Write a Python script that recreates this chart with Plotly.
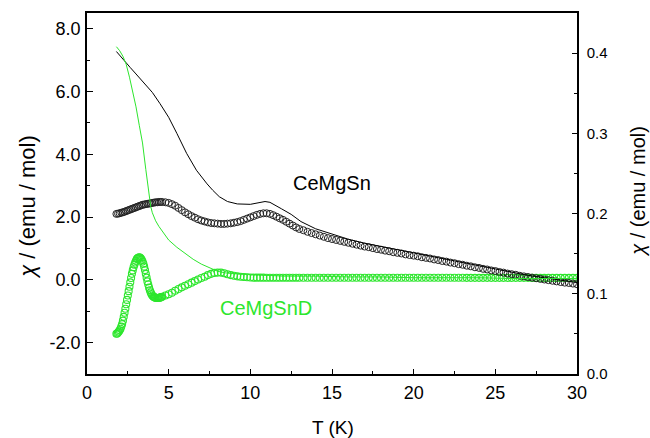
import plotly.graph_objects as go

# ---- data ----
# black circles (left axis), CeMgSn
T_blk_A = [1.8,1.9,2.0,2.1,2.2,2.3,2.4,2.5,2.6,2.7,2.8,2.9,3.0,3.1,3.2,3.3,3.4,3.5,3.6,3.7,3.8,3.9,4.0,4.1,4.2,4.3,4.4,4.5,4.6]
chi_blk_A = [2.10,2.11,2.12,2.14,2.15,2.17,2.19,2.21,2.23,2.25,2.27,2.29,2.31,2.33,2.35,2.37,2.39,2.40,2.41,2.42,2.43,2.44,2.45,2.46,2.47,2.47,2.48,2.48,2.48]

T_B = [4.8,5.0,5.2,5.4,5.6,5.8,6.0,6.2,6.4,6.6,6.8,7.0,7.2,7.4,7.6,7.8,8.0,8.2,8.4,8.6,8.8,9.0,9.2,9.4,9.6,9.8,10.0,10.2,10.4,10.6,10.8,11.0,11.2,11.4,11.6,11.8,12.0,12.2,12.4,12.6,12.8,13.0]
chi_blk_B = [2.47,2.45,2.41,2.36,2.29,2.22,2.15,2.09,2.03,1.98,1.93,1.89,1.86,1.83,1.81,1.80,1.79,1.78,1.78,1.79,1.80,1.82,1.84,1.87,1.91,1.95,1.99,2.03,2.07,2.10,2.12,2.12,2.10,2.06,2.01,1.96,1.91,1.85,1.79,1.73,1.67,1.62]

T_C = [13.25,13.5,13.75,14.0,14.25,14.5,14.75,15.0,15.25,15.5,15.75,16.0,16.25,16.5,16.75,17.0,
       17.25,17.5,17.75,18.0,18.25,18.5,18.75,19.0,19.25,19.5,19.75,20.0,20.25,20.5,20.75,21.0,
       21.25,21.5,21.75,22.0,22.25,22.5,22.75,23.0,23.25,23.5,23.75,24.0,24.25,24.5,24.75,25.0,
       25.25,25.5,25.75,26.0,26.25,26.5,26.75,27.0,27.25,27.5,27.75,28.0,28.25,28.5,28.75,29.0,
       29.25,29.5,29.75,30.0]
chi_blk_C = [1.58,1.53,1.49,1.45,1.41,1.37,1.33,1.30,1.27,1.24,1.21,1.18,1.15,1.12,1.09,1.06,
             1.04,1.01,0.98,0.96,0.93,0.91,0.88,0.86,0.84,0.81,0.79,0.77,0.75,0.72,0.70,0.68,
             0.65,0.63,0.60,0.58,0.55,0.53,0.50,0.48,0.45,0.43,0.40,0.38,0.35,0.33,0.30,0.28,
             0.25,0.23,0.20,0.18,0.16,0.13,0.11,0.09,0.07,0.05,0.03,0.01,-0.01,-0.03,-0.05,-0.07,
             -0.09,-0.10,-0.12,-0.14]

# green circles (left axis), CeMgSnD
T_grn_A = [1.80,1.85,1.90,1.95,2.00,2.05,2.10,2.15,2.20,2.25,2.30,2.35,2.40,2.45,2.50,2.55,2.60,2.65,2.70,2.75,
           2.80,2.85,2.90,2.95,3.00,3.05,3.10,3.15,3.20,3.25,3.30,3.35,3.40,3.45,3.50,3.55,3.60,3.65,3.70,3.75,
           3.80,3.85,3.90,3.95,4.00,4.05,4.10,4.15,4.20,4.25,4.30,4.35,4.40,4.45,4.50,4.55,4.60]
chi_grn_A = [-1.72,-1.71,-1.68,-1.65,-1.61,-1.56,-1.49,-1.41,-1.30,-1.18,-1.05,-0.92,-0.78,-0.64,-0.50,-0.36,-0.22,-0.08,0.06,0.19,
             0.30,0.40,0.48,0.55,0.61,0.66,0.69,0.71,0.72,0.71,0.68,0.64,0.58,0.51,0.42,0.31,0.19,0.07,-0.05,-0.15,
             -0.25,-0.33,-0.40,-0.46,-0.50,-0.53,-0.55,-0.56,-0.57,-0.58,-0.58,-0.58,-0.57,-0.57,-0.56,-0.55,-0.54]
chi_grn_B = [-0.50,-0.46,-0.41,-0.35,-0.29,-0.24,-0.19,-0.14,-0.09,-0.04,0.01,0.06,0.10,0.15,0.19,0.22,0.23,0.23,0.21,0.18,
             0.15,0.13,0.11,0.10,0.09,0.08,0.075,0.07,0.07,0.07,0.07,0.065,0.065,0.065,0.065,0.065,0.065,0.065,0.065,0.065,
             0.065,0.065]
chi_grn_C = [0.065,0.065,0.065,0.065,0.065,0.065,0.065,0.065,0.065,0.065,0.065,0.065,0.065,0.065,0.065,0.065,
             0.065,0.065,0.065,0.065,0.065,0.065,0.065,0.065,0.065,0.065,0.065,0.065,0.064,0.064,0.064,0.064,
             0.064,0.064,0.064,0.064,0.064,0.064,0.064,0.064,0.063,0.063,0.063,0.063,0.063,0.063,0.063,0.063,
             0.063,0.063,0.063,0.063,0.063,0.063,0.063,0.063,0.062,0.062,0.062,0.062,0.062,0.062,0.062,0.062,
             0.062,0.062,0.062,0.062]

# thin lines (right axis)
T_line_blk = [1.8,2.0,2.2,2.4,2.65,3.0,3.3,3.67,4.0,4.47,5.0,5.5,6.1,6.7,7.1,7.35,7.7,8.1,8.6,9.2,10.0,10.5,10.9,11.2,11.5,11.9,
              12.5,13.1,14,15,16,17,18,19,20,21,22,23,24,25,26,27,28,29,30]
chi_line_blk = [0.402,0.397,0.392,0.387,0.382,0.374,0.367,0.359,0.351,0.337,0.320,0.300,0.275,0.254,0.243,0.237,0.229,0.221,0.215,0.212,0.2115,0.213,0.215,0.214,0.211,0.206,
                0.199,0.190,0.181,0.174,0.168,0.163,0.159,0.155,0.151,0.147,0.143,0.139,0.135,0.131,0.127,0.123,0.120,0.117,0.114]
T_line_grn = [1.8,2.0,2.2,2.4,2.6,2.8,3.0,3.2,3.4,3.6,3.7,3.8,3.9,4.0,4.2,4.4,4.7,5.0,5.5,6.0,6.5,7.0,7.5,8.0,8.5,9.0,
              10,11,12,14,16,18,20,22,24,26,28,30]
chi_line_grn = [0.408,0.403,0.396,0.386,0.370,0.352,0.333,0.310,0.288,0.255,0.237,0.222,0.209,0.201,0.191,0.184,0.175,0.167,0.158,0.150,0.143,0.137,0.132,0.128,0.126,0.125,
                0.124,0.123,0.122,0.122,0.121,0.121,0.120,0.120,0.120,0.119,0.119,0.119]

# tick labels
left_ticks = [-2, 0, 2, 4, 6, 8]
left_labels = ["-2.0", "0.0", "2.0", "4.0", "6.0", "8.0"]
right_ticks = [0.0, 0.1, 0.2, 0.3, 0.4]
right_labels = ["0.0", "0.1", "0.2", "0.3", "0.4"]

BLACK = "rgb(35,35,35)"
GREEN = "rgb(45,230,45)"
FONT = "Arial, Liberation Sans, sans-serif"

fig = go.Figure()
fig.add_trace(go.Scatter(x=T_grn_A + T_B + T_C, y=chi_grn_A + chi_grn_B + chi_grn_C, mode="markers",
                         marker=dict(symbol="circle-open", size=7, color=GREEN, line=dict(width=1.1)),
                         yaxis="y", showlegend=False))
fig.add_trace(go.Scatter(x=T_blk_A + T_B + T_C, y=chi_blk_A + chi_blk_B + chi_blk_C, mode="markers",
                         marker=dict(symbol="circle-open", size=7, color=BLACK, line=dict(width=1.0)),
                         yaxis="y", showlegend=False))
fig.add_trace(go.Scatter(x=T_line_blk, y=chi_line_blk, mode="lines", line=dict(color="black", width=1),
                         yaxis="y2", showlegend=False))
fig.add_trace(go.Scatter(x=T_line_grn, y=chi_line_grn, mode="lines", line=dict(color=GREEN, width=1),
                         yaxis="y2", showlegend=False))

axis_common = dict(showline=True, linecolor="black", linewidth=1.5, ticks="inside", tickcolor="black",
                   showgrid=False, zeroline=False)

fig.update_layout(
    width=650, height=438,
    margin=dict(l=87, r=73, t=13, b=64),
    paper_bgcolor="white", plot_bgcolor="white",
    xaxis=dict(range=[0, 30], dtick=5, tick0=0, ticklen=5, tickwidth=1.2, mirror=True,
               minor=dict(dtick=2.5, ticklen=3, ticks="inside", tickcolor="black"),
               ticklabelstandoff=2, tickfont=dict(family=FONT, size=18, color="black"), **axis_common),
    yaxis=dict(range=[-3, 8.5], tickvals=left_ticks, ticktext=left_labels, ticklen=6, tickwidth=1.2,
               minor=dict(dtick=1, ticklen=3.5, ticks="inside", tickcolor="black"),
               ticklabelstandoff=1, tickfont=dict(family=FONT, size=18, color="black"), **axis_common),
    yaxis2=dict(range=[0, 0.45], tickvals=right_ticks, ticktext=right_labels, ticklen=5, tickwidth=1.2,
                overlaying="y", side="right",
                minor=dict(dtick=0.05, ticklen=3, ticks="inside", tickcolor="black"),
                ticklabelstandoff=5, tickfont=dict(family=FONT, size=15, color="black"), **axis_common),
    annotations=[
        dict(text="CeMgSn", xref="x", yref="y", x=15.0, y=3.1, showarrow=False,
             font=dict(family=FONT, size=20, color="black")),
        dict(text="CeMgSnD", xref="x", yref="y", x=10.95, y=-0.9, showarrow=False,
             font=dict(family=FONT, size=20, color=GREEN)),
        dict(text="T (K)", xref="paper", yref="paper", x=(333 - 87) / 490, y=(374.3 - 428) / 361.3,
             xanchor="center", yanchor="middle",
             showarrow=False, font=dict(family=FONT, size=19, color="black")),
        dict(text="<i>χ</i> / (emu / mol)", xref="paper", yref="paper", x=(28 - 87) / 490, y=(374.3 - 207) / 361.3,
             xanchor="center", yanchor="middle",
             textangle=-90, showarrow=False, font=dict(family=FONT, size=22, color="black")),
        dict(text="<i>χ</i> / (emu / mol)", xref="paper", yref="paper", x=(638 - 87) / 490, y=(374.3 - 192) / 361.3,
             xanchor="center", yanchor="middle",
             textangle=-90, showarrow=False, font=dict(family=FONT, size=20, color="black")),
    ],
)

fig.write_html("out.html")
